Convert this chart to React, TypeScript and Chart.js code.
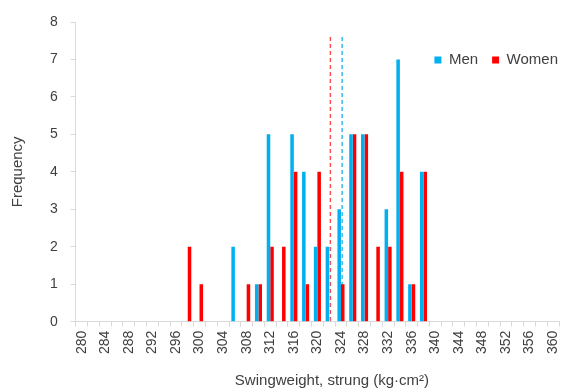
import React, { useEffect, useRef } from 'react';
import { Chart, registerables } from 'chart.js';

Chart.register(...registerables);

// Swingweight categories (kg·cm²), every 2 units
const categories = [
  '280', '282', '284', '286', '288', '290', '292', '294', '296', '298',
  '300', '302', '304', '306', '308', '310', '312', '314', '316', '318',
  '320', '322', '324', '326', '328', '330', '332', '334', '336', '338',
  '340', '342', '344', '346', '348', '350', '352', '354', '356', '358',
  '360',
];

// Frequencies
const menCounts = [
  0, 0, 0, 0, 0, 0, 0, 0, 0, 0,
  0, 0, 0, 2, 0, 1, 5, 0, 5, 4,
  2, 2, 3, 5, 5, 0, 3, 7, 1, 4,
  0, 0, 0, 0, 0, 0, 0, 0, 0, 0,
  0,
];
const womenCounts = [
  0, 0, 0, 0, 0, 0, 0, 0, 0, 2,
  1, 0, 0, 0, 1, 1, 2, 2, 4, 1,
  4, 0, 1, 5, 5, 2, 2, 4, 1, 4,
  0, 0, 0, 0, 0, 0, 0, 0, 0, 0,
  0,
];

// Mean swingweights (dashed lines) and their top
const meanValues = [324.2, 322.2]; // men, women
const meanLineTop = 7.6;

const seriesNames = ['Men', 'Women'];
const yMin = 0;
const yMax = 8;

const FONT = "'Liberation Sans', Arial, sans-serif";
const TEXT = '#404040';
const AXIS = '#d9d9d9';
const BLUE = '#00B0F0';
const RED = '#FF0000';
const MEAN_COLORS = ['#2ab6ef', '#ff4a4a'];

const legendPlace = {
  id: 'legendPlace',
  afterLayout(chart: any) {
    const lg = chart.legend;
    if (!lg) return;
    const w = lg.right - lg.left;
    lg.right = 572;
    lg.left = lg.right - w;
    lg.top = 38.5;
    lg.bottom = lg.top + 40;
  },
};

const meanLines = {
  id: 'meanLines',
  beforeDatasetsDraw(chart: any) {
    const xs = chart.scales.x;
    const ys = chart.scales.y;
    const ctx = chart.ctx;
    const first = Number(categories[0]);
    const step = Number(categories[1]) - first;
    ctx.save();
    meanValues.forEach((m, i) => {
      const px = xs.getPixelForValue((m - first) / step);
      ctx.beginPath();
      ctx.strokeStyle = MEAN_COLORS[i];
      ctx.lineWidth = 1.4;
      ctx.setLineDash([4, 3]);
      ctx.moveTo(px, ys.getPixelForValue(meanLineTop));
      ctx.lineTo(px, ys.getPixelForValue(yMin));
      ctx.stroke();
    });
    ctx.restore();
  },
};

export default function App() {
  const ref = useRef<HTMLCanvasElement | null>(null);

  useEffect(() => {
    document.body.style.margin = '0';
    const canvas = ref.current;
    if (!canvas) return;
    const chart = new Chart(canvas, {
      type: 'bar',
      data: {
        labels: categories,
        datasets: [
          {
            label: seriesNames[0],
            data: menCounts,
            backgroundColor: BLUE,
            borderWidth: 0,
            categoryPercentage: 0.6,
            barPercentage: 1,
          } as any,
          {
            label: seriesNames[1],
            data: womenCounts,
            backgroundColor: RED,
            borderWidth: 0,
            categoryPercentage: 0.6,
            barPercentage: 1,
          } as any,
        ],
      },
      options: {
        animation: false,
        responsive: false,
        devicePixelRatio: 1,
        layout: { padding: { top: 21, right: 7, bottom: 0, left: 5 } },
        plugins: {
          tooltip: { enabled: false },
          legend: {
            display: true,
            position: 'top',
            align: 'end',
            maxHeight: 1,
            labels: {
              boxWidth: 7,
              boxHeight: 7,
              padding: 14,
              color: TEXT,
              font: { family: FONT, size: 15 },
            },
          },
        },
        scales: {
          x: {
            type: 'category',
            offset: true,
            afterFit: (s: any) => {
              s.paddingLeft = 0;
              s.paddingRight = 0;
            },
            grid: {
              display: true,
              drawOnChartArea: false,
              drawTicks: true,
              tickLength: 5,
              color: AXIS,
              offset: true,
            },
            border: { display: true, color: AXIS },
            ticks: {
              autoSkip: false,
              maxRotation: 90,
              minRotation: 90,
              padding: 4,
              color: TEXT,
              font: { family: FONT, size: 14 },
              callback: (_v: any, i: number) => (i % 2 === 0 ? categories[i] : ''),
            },
            title: {
              display: true,
              text: '       Swingweight, strung (kg·cm²)',
              color: TEXT,
              font: { family: FONT, size: 15 },
              padding: { top: 14, bottom: 0 },
            },
          },
          y: {
            min: yMin,
            max: yMax,
            grid: {
              display: true,
              drawOnChartArea: false,
              drawTicks: true,
              tickLength: 5,
              color: AXIS,
            },
            border: { display: true, color: AXIS },
            ticks: {
              stepSize: 1,
              padding: 13,
              color: TEXT,
              font: { family: FONT, size: 14 },
            },
            title: {
              display: true,
              text: 'Frequency',
              color: TEXT,
              font: { family: FONT, size: 15 },
              padding: { top: 4, bottom: 10 },
            },
          },
        },
      } as any,
      plugins: [legendPlace, meanLines],
    });
    return () => chart.destroy();
  }, []);

  return (
    <div style={{ width: 566, height: 390 }}>
      <canvas ref={ref} width={566} height={390} style={{ display: 'block' }} />
    </div>
  );
}
